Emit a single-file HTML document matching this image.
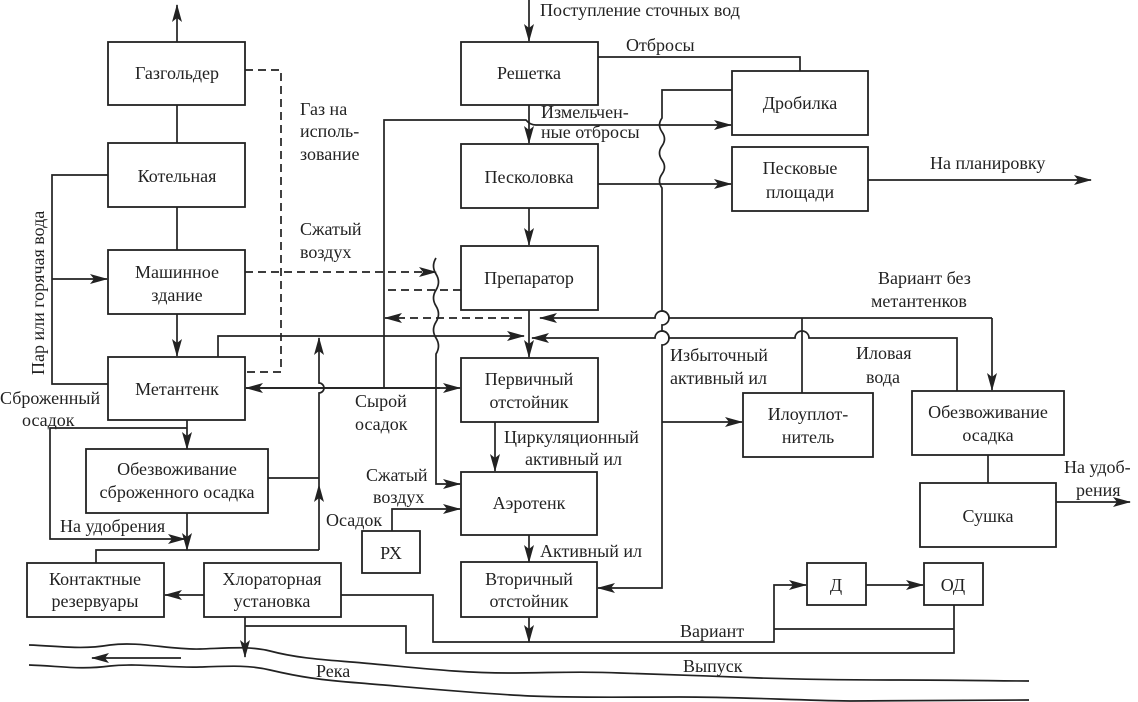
<!DOCTYPE html>
<html><head><meta charset="utf-8"><style>
html,body{margin:0;padding:0;background:#fff}
svg{display:block}
text{font-family:"Liberation Serif","DejaVu Serif",serif;font-size:18px;fill:#222}
.b{fill:#fff;stroke:#222;stroke-width:1.8}
.l{fill:none;stroke:#222;stroke-width:1.7}
.d{fill:none;stroke:#222;stroke-width:1.7;stroke-dasharray:8,5}
</style></head><body>
<svg width="1138" height="702" viewBox="0 0 1138 702" xmlns="http://www.w3.org/2000/svg">
<defs>
<marker id="a" markerWidth="18" markerHeight="12" refX="17" refY="6" orient="auto" markerUnits="userSpaceOnUse">
<path d="M0,1 L18,6 L0,11 L4,6 Z" fill="#222"/></marker>
</defs>
<g text-anchor="middle">
<rect class="b" x="108" y="42" width="137" height="63"/><text x="177" y="79">Газгольдер</text>
<rect class="b" x="108" y="143" width="137" height="64"/><text x="177" y="182">Котельная</text>
<rect class="b" x="108" y="250" width="137" height="64"/><text x="177" y="278">Машинное</text><text x="177" y="301">здание</text>
<rect class="b" x="108" y="357" width="137" height="63"/><text x="177" y="395">Метантенк</text>
<rect class="b" x="86" y="449" width="182" height="64"/><text x="177" y="475">Обезвоживание</text><text x="177" y="498">сброженного осадка</text>
<rect class="b" x="27" y="563" width="137" height="54"/><text x="95" y="585">Контактные</text><text x="95" y="607">резервуары</text>
<rect class="b" x="204" y="563" width="137" height="54"/><text x="272" y="585">Хлораторная</text><text x="272" y="607">установка</text>
<rect class="b" x="362" y="531" width="58" height="42"/><text x="391" y="559">РХ</text>
<rect class="b" x="461" y="42" width="137" height="63"/><text x="529" y="79">Решетка</text>
<rect class="b" x="461" y="144" width="137" height="64"/><text x="529" y="183">Песколовка</text>
<rect class="b" x="461" y="246" width="137" height="64"/><text x="529" y="284">Препаратор</text>
<rect class="b" x="461" y="358" width="137" height="64"/><text x="529" y="385">Первичный</text><text x="529" y="408">отстойник</text>
<rect class="b" x="461" y="472" width="136" height="63"/><text x="529" y="509">Аэротенк</text>
<rect class="b" x="461" y="562" width="136" height="55"/><text x="529" y="585">Вторичный</text><text x="529" y="607">отстойник</text>
<rect class="b" x="732" y="71" width="136" height="64"/><text x="800" y="109">Дробилка</text>
<rect class="b" x="732" y="147" width="136" height="64"/><text x="800" y="174">Песковые</text><text x="800" y="198">площади</text>
<rect class="b" x="743" y="393" width="130" height="64"/><text x="808" y="420">Илоуплот-</text><text x="808" y="443">нитель</text>
<rect class="b" x="912" y="391" width="152" height="64"/><text x="988" y="418">Обезвоживание</text><text x="988" y="441">осадка</text>
<rect class="b" x="920" y="483" width="136" height="64"/><text x="988" y="522">Сушка</text>
<rect class="b" x="807" y="563" width="59" height="42"/><text x="836" y="591">Д</text>
<rect class="b" x="924" y="563" width="59" height="42"/><text x="953" y="591">ОД</text>
</g>

<path class="l" d="M177,42 V5" marker-end="url(#a)"/>
<path class="l" d="M177,105 V143 M177,207 V250"/>
<path class="l" d="M177,314 V356" marker-end="url(#a)"/>
<path class="l" d="M108,175 H52 V384 H108"/>
<path class="l" d="M52,279 H107" marker-end="url(#a)"/>
<path class="d" d="M245,70 H281 V372 H245"/>
<path class="d" d="M245,272 H436" marker-end="url(#a)"/>
<path class="l" d="M218,357 V336 H524" marker-end="url(#a)"/>
<path class="l" d="M187,420 V449" marker-end="url(#a)"/>
<path class="l" d="M187,428 H50 V539 H185" marker-end="url(#a)"/>
<path class="l" d="M187,513 V550" marker-end="url(#a)"/>
<path class="l" d="M96,563 V550 H319"/>
<path class="l" d="M268,478 H319"/>
<path class="l" d="M319,550 V485" marker-end="url(#a)"/>
<path class="l" d="M319,485 V393 a5,5 0 0 0 0,-10 V338" marker-end="url(#a)"/>
<path class="l" d="M246,388 H460" marker-end="url(#a)"/>
<path class="l" d="M440,388 H246" marker-end="url(#a)"/>
<path class="l" d="M204,595 H165" marker-end="url(#a)"/>
<path class="l" d="M341,595 H433 V642 H774 V585 H806" marker-end="url(#a)"/>
<path class="l" d="M866,585 H923" marker-end="url(#a)"/>
<path class="l" d="M774,629 H954 M954,605 V653 H406 V626 H245"/>
<path class="l" d="M245,617 V657" marker-end="url(#a)"/>
<path class="l" d="M529,617 V642" marker-end="url(#a)"/>
<path class="l" d="M529,0 V41" marker-end="url(#a)"/>
<path class="l" d="M598,57 H800 V71"/>
<path class="l" d="M529,105 V143" marker-end="url(#a)"/>
<path class="l" d="M384,388 V120 H526 Q530,125 536,125 H731" marker-end="url(#a)"/>
<path class="l" d="M598,184 H731" marker-end="url(#a)"/>
<path class="l" d="M868,180 H1091" marker-end="url(#a)"/>
<path class="l" d="M529,208 V245" marker-end="url(#a)"/>
<path class="l" d="M529,310 V357" marker-end="url(#a)"/>
<path class="d" d="M461,290 H384"/>
<path class="d" d="M522,318 H385" marker-end="url(#a)"/>
<path class="l" d="M436,258 q-5,8 0,16 q5,8 0,16 q-5,8 0,16 q5,8 0,16 q-5,8 0,16 q5,8 0,16 V484 H460" marker-end="url(#a)"/>
<path class="l" d="M392,531 V509 H460" marker-end="url(#a)"/>
<path class="l" d="M495,422 V471" marker-end="url(#a)"/>
<path class="l" d="M529,535 V562" marker-end="url(#a)"/>
<path class="l" d="M732,90 H662 V118 q-5,7 0,14 q5,7 0,14 q-5,7 0,14 q5,7 0,14 q-5,7 0,14 V311 a6,6 0 0 1 0,14 V331 a6,6 0 0 1 0,14 V588 H598" marker-end="url(#a)"/>
<path class="l" d="M662,422 H742" marker-end="url(#a)"/>
<path class="l" d="M992,318 H669 a7,7 0 0 0 -14,0 H540" marker-end="url(#a)"/>
<path class="l" d="M992,318 V390" marker-end="url(#a)"/>
<path class="l" d="M802,318 V393"/>
<path class="l" d="M957,391 V338 H809 a7,7 0 0 0 -14,0 H669 a7,7 0 0 0 -14,0 H532" marker-end="url(#a)"/>
<path class="l" d="M988,455 V483"/>
<path class="l" d="M1056,502 H1130" marker-end="url(#a)"/>
<path class="l" d="M29,645 C60,646 80,650 110,645 C140,641 170,650 200,649 C230,648 250,646 270,651 C300,659 330,660 363,663 C420,668 460,673 508,673 C550,673 580,671 620,673 C680,675 710,676 760,678 C820,680 860,680 900,680 C960,680 1000,681 1029,681"/>
<path class="l" d="M29,665 C60,666 80,670 110,666 C140,663 170,668 200,667 C230,666 250,665 270,670 C300,677 320,680 360,683 C420,688 470,693 530,696 C580,698 620,697 680,697 C740,697 790,700 850,701 C920,701 980,700 1029,700"/>
<path class="l" d="M181,658 H92" marker-end="url(#a)"/>

<text x="540" y="16">Поступление сточных вод</text>
<text x="626" y="51">Отбросы</text>
<text x="541" y="118">Измельчен-</text>
<text x="541" y="138">ные отбросы</text>
<text x="930" y="169">На планировку</text>
<text x="300" y="115">Газ на</text>
<text x="300" y="137">исполь-</text>
<text x="300" y="160">зование</text>
<text x="300" y="235">Сжатый</text>
<text x="300" y="258">воздух</text>
<text x="878" y="284">Вариант без</text>
<text x="871" y="307">метантенков</text>
<text x="670" y="361">Избыточный</text>
<text x="670" y="384">активный ил</text>
<text x="856" y="359">Иловая</text>
<text x="866" y="383">вода</text>
<text x="355" y="407">Сырой</text>
<text x="355" y="430">осадок</text>
<text x="0" y="404">Сброженный</text>
<text x="22" y="426">осадок</text>
<text x="504" y="443">Циркуляционный</text>
<text x="525" y="465">активный ил</text>
<text x="366" y="481">Сжатый</text>
<text x="373" y="503">воздух</text>
<text x="326" y="526">Осадок</text>
<text x="60" y="532">На удобрения</text>
<text x="540" y="557">Активный ил</text>
<text x="1064" y="473">На удоб-</text>
<text x="1076" y="496">рения</text>
<text x="680" y="637">Вариант</text>
<text x="683" y="672">Выпуск</text>
<text x="316" y="677">Река</text>
<text transform="translate(44,375) rotate(-90)">Пар или горячая вода</text>
</svg>
</body></html>
